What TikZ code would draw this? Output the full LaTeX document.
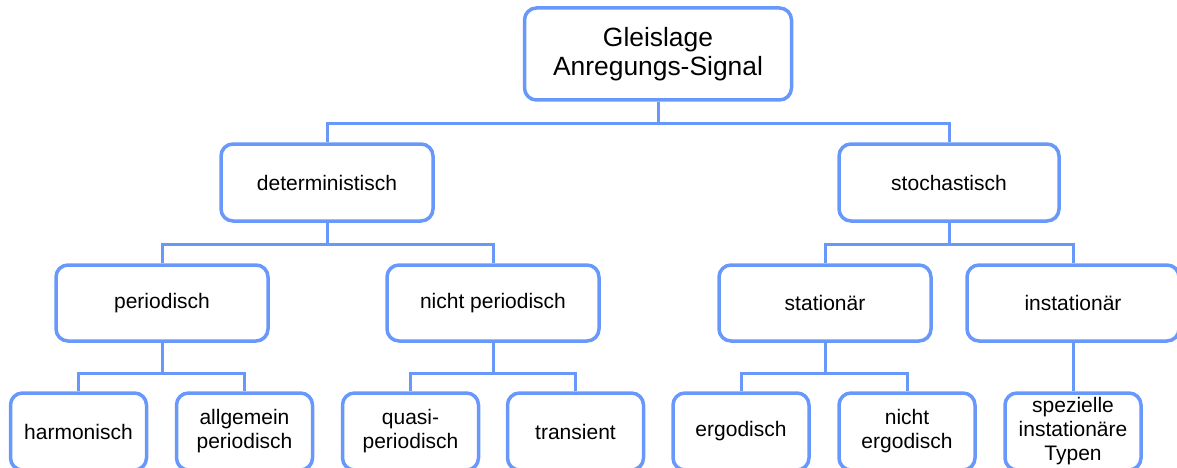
\documentclass[tikz,border=0pt]{standalone}
\usepackage{fontspec}
\setmainfont{Liberation Sans}
\usetikzlibrary{positioning}
\definecolor{boxblue}{RGB}{104,153,250}
\tikzset{
    %Define style for boxes
    box/.style={
           rectangle,
           rounded corners=12pt,
           draw=boxblue, line width=3.5pt,
           fill=white,
           inner sep=0pt,
           align=center,
           font=\fontsize{21}{24}\selectfont},
    rootbox/.style={
           box,
           minimum width=267pt,
           minimum height=92pt,
           font=\fontsize{26.4}{29}\selectfont},
    midbox/.style={
           box,
           minimum width=212pt,
           minimum height=77pt},
    leafbox/.style={
           box,
           minimum width=136pt,
           minimum height=77pt},
    % Define connector style
    con/.style={
           draw=boxblue,
           line width=3pt}
}
\begin{document}
\begin{tikzpicture}[x=1pt,y=-1pt]
\useasboundingbox (0,0) rectangle (1177,468);
 %nodes
\node[rootbox](1) at (658,54){Gleislage\\Anregungs-Signal};
\node[midbox](2) at (327,182.5){deterministisch};
\node[midbox, minimum width=220pt](3) at (949,182.5){stochastisch};
\node[midbox, minimum height=76pt](4) at (162,303){periodisch};
\node[midbox, minimum height=76pt](5) at (493,303){nicht periodisch};
\node[midbox, minimum height=76pt](6) at (825,303){stationär};
\node[midbox, minimum height=76pt](7) at (1073,303){instationär};
\node[leafbox](8) at (78.5,431.5){harmonisch};
\node[leafbox](9) at (244.5,431.5){allgemein\\periodisch};
\node[leafbox](10) at (410.5,431.5){quasi-\\periodisch};
\node[leafbox](11) at (575.5,431.5){transient};
\node[leafbox](12) at (741,431.5){ergodisch};
\node[leafbox](13) at (907,431.5){nicht\\ergodisch};
\node[leafbox](14) at (1073,431.5){spezielle\\instationäre\\Typen};
 %connectors
\foreach \a/\b/\d in {1/2/22,1/3/22,2/4/22,2/5/22,3/6/22,3/7/22,
                      4/8/31,4/9/31,5/10/31,5/11/31,6/12/31,6/13/31,7/14/31}
    \draw[con] (\a.south) -- ++(0,\d) -| (\b.north);
\end{tikzpicture}
\end{document}
